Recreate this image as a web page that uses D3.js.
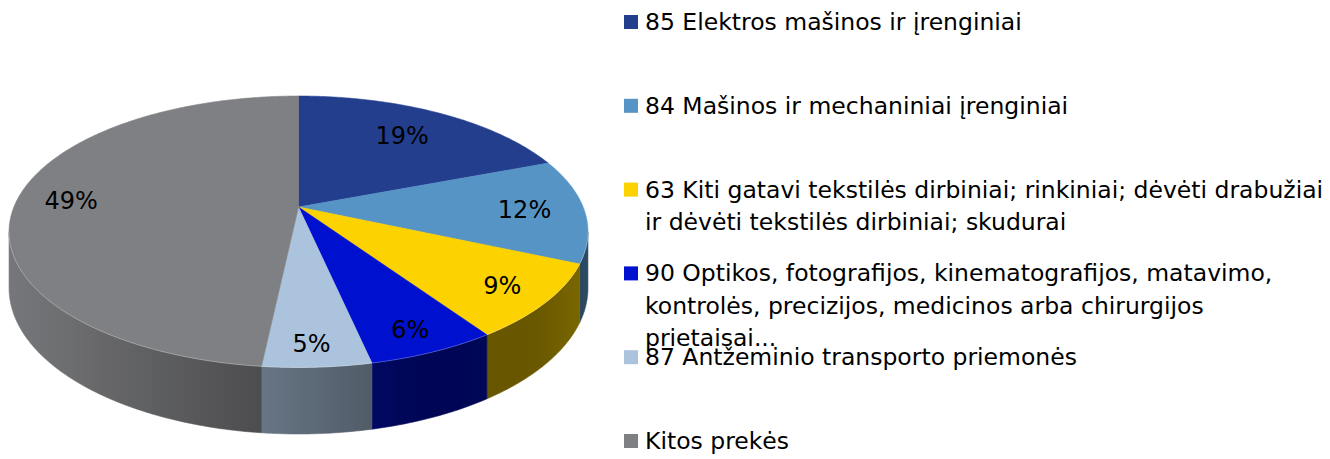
<!DOCTYPE html>
<html>
<head>
<meta charset="utf-8">
<script src="https://cdn.jsdelivr.net/npm/d3@7"></script>
<style>
  body { margin: 0; background: #fff; }
  svg { display: block; }
</style>
</head>
<body>
<div id="chart"></div>
<script>
"use strict";

/* ── Data ── */
const categories = [
  "85 Elektros mašinos ir įrenginiai",
  "84 Mašinos ir mechaniniai įrenginiai",
  "63 Kiti gatavi tekstilės dirbiniai; rinkiniai; dėvėti drabužiai\nir dėvėti tekstilės dirbiniai; skudurai",
  "90 Optikos, fotografijos, kinematografijos, matavimo,\nkontrolės, precizijos, medicinos arba chirurgijos\nprietaisai...",
  "87 Antžeminio transporto priemonės",
  "Kitos prekės"
];
const shares      = [19.2, 12.4, 8.9, 6.1, 5.1, 48.3];
const shareLabels = ["19%", "12%", "9%", "6%", "5%", "49%"];
const colours     = ["#243E8E", "#5794C6", "#FCD200", "#0010CF", "#ABC3DC", "#7F8083"];

const FONT = "Tahoma, 'DejaVu Sans', sans-serif";

const width = 1330, height = 459;

const svg = d3.select("#chart").append("svg")
  .attr("width", width)
  .attr("height", height);
const defs = svg.append("defs");

/* ── Perspective disc: centre, radii, tilt, thickness ── */
const P = { cx: 298.5, cy: 207, a: 284.6, b: 131.2, k: 0.1823, h: 54.4 };

// angle in d3 convention (0 = 12 o'clock, clockwise), r in 0..1, drop 0 = top face, 1 = bottom
function project(angle, r, drop) {
  const u = r * Math.sin(angle);
  const v = -r * Math.cos(angle);
  const w = 1 - P.k * v;
  return [P.cx + P.a * u / w, P.cy + (P.b * v + drop * P.h) / w];
}

function rim(a0, a1, drop) {
  const n = Math.max(2, Math.ceil((a1 - a0) / 0.01));
  return d3.range(n + 1).map(i => project(a0 + (a1 - a0) * i / n, 1, drop));
}

const pie = d3.pie().value(d => d.value).sort(null);
const arcs = pie(shares.map((v, i) => ({ value: v, i })));

const line = d3.line();

/* ── Side walls (front half only) ── */
const visFrom = Math.PI / 2 + Math.asin(P.k);
const visTo   = 3 * Math.PI / 2 - Math.asin(P.k);

const shade = d3.scaleLinear()
  .domain([10, 262, 373, 430, 540, 590])
  .range([0.93, 0.6, 0.47, 0.4, 0.42, 0.5])
  .clamp(true);

function dim(hex, f) {
  const c = d3.rgb(hex);
  return d3.rgb(c.r * f, c.g * f, c.b * f).formatHex();
}

const walls = svg.append("g").attr("class", "walls");
arcs.forEach(d => {
  const s = Math.max(d.startAngle, visFrom);
  const e = Math.min(d.endAngle, visTo);
  if (e <= s) return;
  const top = rim(s, e, 0);
  const bottom = rim(s, e, 1).reverse();
  const xs = top.map(p => p[0]);
  const x0 = d3.min(xs), x1 = d3.max(xs);
  const id = "wall-grad-" + d.data.i;
  const g = defs.append("linearGradient")
    .attr("id", id)
    .attr("gradientUnits", "userSpaceOnUse")
    .attr("x1", x0).attr("x2", x1).attr("y1", 0).attr("y2", 0);
  d3.range(9).forEach(j => {
    const t = j / 8;
    g.append("stop")
      .attr("offset", t)
      .attr("stop-color", dim(colours[d.data.i], shade(x0 + (x1 - x0) * t)));
  });
  walls.append("path")
    .attr("d", line(top.concat(bottom)) + "Z")
    .attr("fill", `url(#${id})`)
    .attr("stroke", `url(#${id})`)
    .attr("stroke-width", 0.6);
});

/* ── Top face ── */
const faces = svg.append("g").attr("class", "faces");
arcs.forEach(d => {
  const pts = [project(0, 0, 0)].concat(rim(d.startAngle, d.endAngle, 0));
  faces.append("path")
    .attr("d", line(pts) + "Z")
    .attr("fill", colours[d.data.i])
    .attr("stroke", colours[d.data.i])
    .attr("stroke-width", 0.6);
});

// faint highlight along the front rim
svg.append("path")
  .attr("d", line(rim(visFrom, visTo, 0)))
  .attr("fill", "none")
  .attr("stroke", "#ffffff")
  .attr("stroke-opacity", 0.25)
  .attr("stroke-width", 1);

/* ── Percentage labels: pushed further out towards the front ── */
function labelPos(d) {
  const mid = (d.startAngle + d.endAngle) / 2;
  const r = 0.8 - 0.08 * Math.cos(mid);
  return project(mid, r, 0);
}

svg.append("g").selectAll("text")
  .data(arcs)
  .join("text")
  .attr("x", d => labelPos(d)[0] - 3)
  .attr("y", d => labelPos(d)[1])
  .attr("text-anchor", "middle")
  .attr("dominant-baseline", "central")
  .attr("font-family", FONT)
  .attr("font-size", "24px")
  .attr("fill", "#000")
  .text(d => shareLabels[d.data.i]);

/* ── Legend ── */
const legendY = d3.scalePoint()
  .domain(d3.range(categories.length))
  .range([22, 441]);

const legend = svg.append("g").attr("class", "legend");
categories.forEach((name, i) => {
  const y0 = legendY(i);
  const row = legend.append("g");
  row.append("rect")
    .attr("x", 624).attr("y", y0 - 7)
    .attr("width", 14).attr("height", 14)
    .attr("fill", colours[i]);
  name.split("\n").forEach((txt, j) => {
    row.append("text")
      .attr("x", 645)
      .attr("y", y0 + j * 32.5)
      .attr("dominant-baseline", "central")
      .attr("font-family", FONT)
      .attr("font-size", "23.5px")
      .attr("fill", "#000")
      .text(txt);
  });
});
</script>
</body>
</html>
